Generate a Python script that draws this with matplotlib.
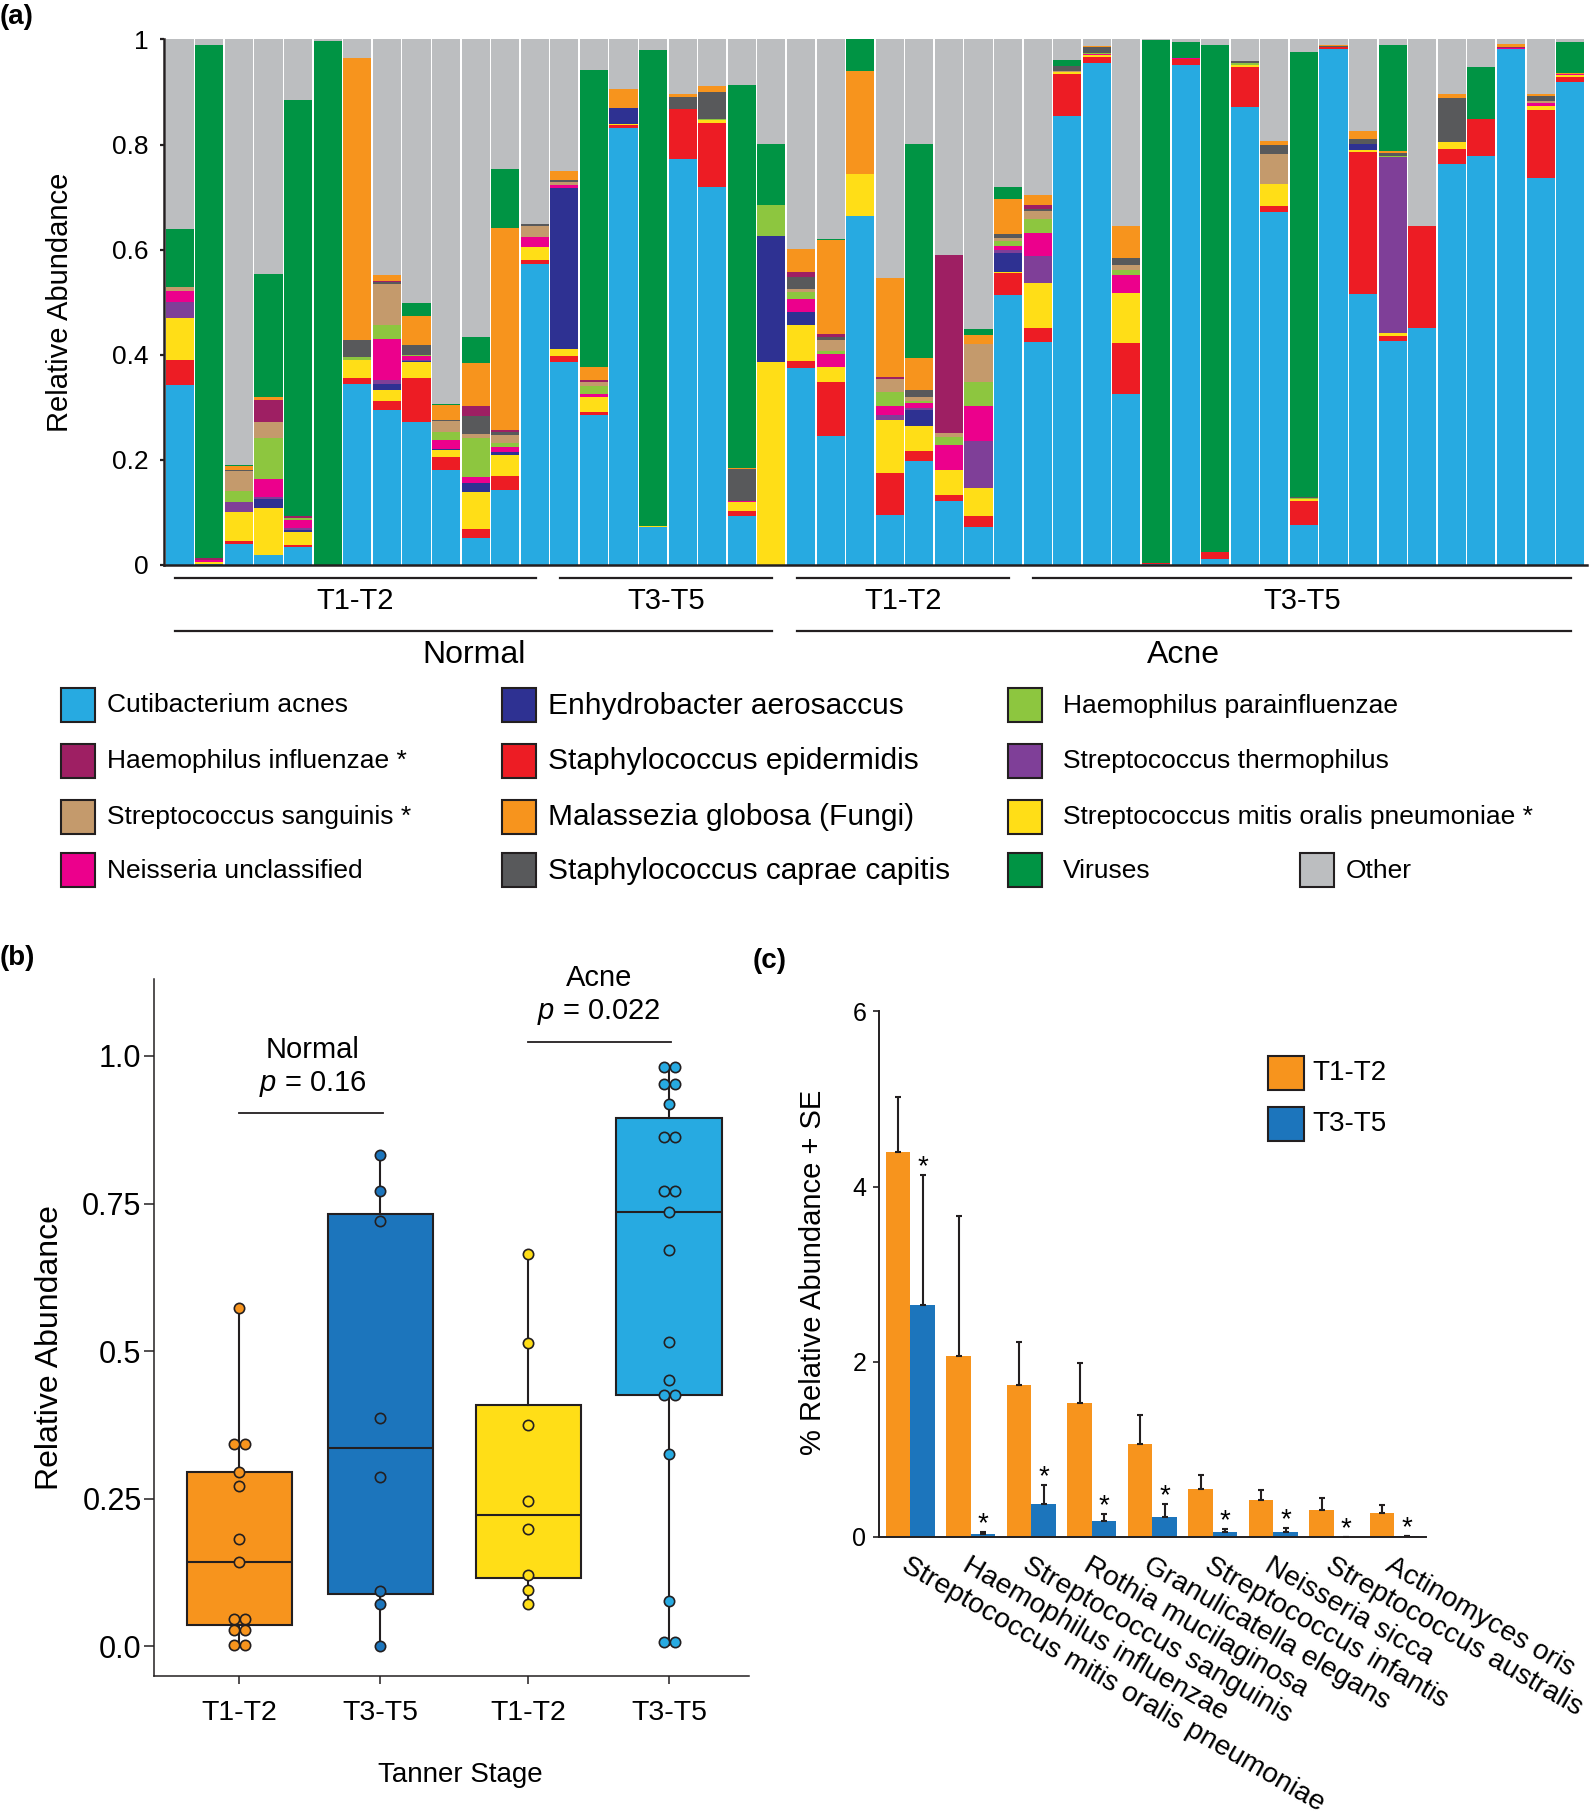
import numpy as np
import matplotlib
matplotlib.use("Agg")
import matplotlib.pyplot as plt
from matplotlib.patches import Rectangle

plt.rcParams['font.family'] = ['Liberation Sans', 'DejaVu Sans']
plt.rcParams['mathtext.fontset'] = 'custom'
plt.rcParams['mathtext.it'] = 'Liberation Sans:italic'
plt.rcParams['mathtext.rm'] = 'Liberation Sans'

W, H = 1593, 1819
DARK = '#231F20'

# ---------------- panel (a): relative abundance per sample (48 samples)
species = ["Cutibacterium acnes", "Staphylococcus epidermidis",
           "Streptococcus mitis oralis pneumoniae *", "Enhydrobacter aerosaccus",
           "Streptococcus thermophilus", "Neisseria unclassified",
           "Haemophilus parainfluenzae", "Streptococcus sanguinis *",
           "Staphylococcus caprae capitis", "Haemophilus influenzae *",
           "Malassezia globosa (Fungi)", "Viruses"]
colors = ['#27AAE1', '#ED1C24', '#FFDE17', '#2E3192', '#7F3F98', '#EC008C',
          '#8DC63F', '#C49A6C', '#58595B', '#9E1F63', '#F7941D', '#009444']
other_color = '#BCBEC0'

acnes = [.342, .002, .040, .019, .035, 0, .344, .295, .272, .181, .051, .142, .573,
         .386, .286, .832, .072, .772, .720, .093, 0,
         .374, .246, .664, .095, .198, .121, .072, .514,
         .425, .854, .955, .325, .002, .951, .012, .871, .672, .076, .982, .515, .426,
         .451, .763, .778, .982, .736, .919]
epidermidis = [.048, 0, .005, 0, .003, 0, .012, .017, .084, .025, .017, .027, .007,
               .012, .005, .005, 0, .096, .122, .010, 0,
               .014, .102, 0, .080, .019, .012, .021, .041,
               .026, .081, .012, .098, .001, .012, .013, .077, .011, .045, .003, .271, .010,
               .194, .029, .071, 0, .130, .009]
mitis = [.080, .004, .056, .089, .025, 0, .034, .021, .030, .013, .071, .040, .025,
         .013, .029, .003, .002, 0, .004, .016, .386,
         .069, .028, .080, .101, .047, .048, .053, .002,
         .086, .004, .004, .094, 0, 0, 0, .004, .042, .004, 0, .004, .006,
         0, .013, 0, 0, .007, .004]
enhydrobacter = [0, 0, 0, .018, .004, 0, 0, .012, .002, .001, .017, .006, 0,
                 .307, 0, .030, 0, 0, 0, 0, .240,
                 .024, 0, 0, 0, .031, 0, 0, .036,
                 0, 0, 0, 0, 0, 0, 0, 0, 0, 0, 0, .011, 0,
                 0, 0, 0, 0, 0, 0]
thermophilus = [.031, 0, .018, .004, .004, 0, 0, .007, .002, 0, 0, 0, 0,
                0, 0, 0, 0, 0, 0, 0, 0,
                0, 0, 0, .010, .003, 0, .090, .006,
                .051, 0, 0, 0, 0, 0, 0, 0, 0, 0, 0, 0, .334,
                0, 0, 0, 0, 0, 0]
neisseria = [.020, .003, 0, .034, .014, 0, 0, .078, .007, .018, .012, .009, .019,
             .005, .005, 0, 0, 0, 0, .002, 0,
             .025, .025, 0, .016, .010, .047, .066, .008,
             .044, 0, .002, .035, 0, .001, 0, 0, 0, 0, 0, 0, 0,
             0, 0, 0, .002, .006, .002]
parainfluenzae = [0, 0, .022, .078, .004, 0, .006, .027, .002, .016, .074, .009, 0,
                  0, .015, 0, 0, 0, .002, 0, .059,
                  .013, .006, 0, .028, .004, .016, .046, .009,
                  .026, 0, .002, .009, 0, 0, 0, .003, 0, .002, 0, 0, .002,
                  0, 0, 0, 0, 0, 0]
sanguinis = [.008, 0, .038, .030, 0, 0, 0, .078, 0, .020, .007, .014, .021,
             .005, .008, 0, 0, 0, 0, 0, 0,
             .006, .021, 0, .024, .008, .007, .073, .006,
             .016, .002, 0, .010, 0, 0, 0, 0, .057, 0, 0, 0, 0,
             0, 0, 0, 0, .004, 0]
caprae = [0, 0, .002, 0, 0, 0, .032, .004, .020, .002, .035, .007, .004,
          .004, 0, 0, 0, .023, .052, .061, 0,
          .023, .005, 0, 0, .013, 0, 0, .008,
          .003, .008, .011, .013, 0, 0, 0, .004, .017, .003, .003, .009, .006,
          0, .083, 0, 0, .010, 0]
influenzae = [0, .004, 0, .042, .004, 0, 0, .002, 0, 0, .018, .003, 0,
              0, .004, 0, 0, 0, 0, 0, 0,
              .009, .006, 0, .004, 0, .339, 0, 0,
              .008, 0, 0, 0, 0, 0, 0, 0, 0, 0, 0, 0, 0,
              0, 0, 0, .002, 0, 0]
malassezia = [0, 0, .007, .006, 0, 0, .537, .011, .055, .028, .083, .385, 0,
              .018, .025, .036, 0, .006, .011, .002, 0,
              .044, .179, .196, .188, .061, 0, .016, .066,
              .019, .001, .002, .061, 0, .001, 0, 0, .008, 0, .001, .016, .004,
              0, .008, 0, .006, .004, .003]
viruses = [.111, .976, .002, .233, .792, .998, 0, 0, .025, .002, .049, .112, 0,
           0, .565, 0, .906, 0, 0, .729, .116,
           0, .002, .060, 0, .407, 0, .012, .023,
           0, .011, 0, 0, .996, .030, .964, 0, 0, .846, 0, 0, .201,
           0, 0, .099, 0, 0, .058]
stack = [acnes, epidermidis, mitis, enhydrobacter, thermophilus, neisseria,
         parainfluenzae, sanguinis, caprae, influenzae, malassezia, viruses]

stage_names = ["T1-T2", "T3-T5", "T1-T2", "T3-T5"]
stage_sizes = [13, 8, 8, 19]
cohorts = ["Normal", "Acne"]

# ---------------- panel (c): mean % relative abundance + SE
c_taxa = ["Streptococcus mitis oralis pneumoniae", "Haemophilus influenzae",
          "Streptococcus sanguinis", "Rothia mucilaginosa", "Granulicatella elegans",
          "Streptococcus infantis", "Neisseria sicca", "Streptococcus australis",
          "Actinomyces oris"]
c_t12 = [4.39, 2.07, 1.74, 1.53, 1.06, 0.55, 0.42, 0.31, 0.27]
c_t12_se = [0.63, 1.59, 0.48, 0.46, 0.33, 0.16, 0.12, 0.14, 0.09]
c_t35 = [2.65, 0.03, 0.38, 0.18, 0.23, 0.06, 0.06, 0.0, 0.01]
c_t35_se = [1.48, 0.03, 0.21, 0.08, 0.15, 0.03, 0.04, 0.0, 0.0]
p_values = ["0.16", "0.022"]

fig = plt.figure(figsize=(W / 100, H / 100), dpi=100)


def fx(px):
    return px / W


def fy(py):
    return 1 - py / H


# ================= panel (a)
ax_a = fig.add_axes([fx(164), fy(565), 1422.7 / W, 525.5 / H])
x = np.arange(len(acnes))
bottom = np.zeros(len(acnes))
for vals, col in zip(stack, colors):
    ax_a.bar(x, vals, 0.95, bottom=bottom, color=col, linewidth=0)
    bottom += np.array(vals)
ax_a.bar(x, np.clip(1 - bottom, 0, None), 0.95, bottom=bottom, color=other_color, linewidth=0)

ax_a.set_xlim(-0.534, 47.56)
ax_a.set_ylim(0, 1)
for s in ['top', 'right']:
    ax_a.spines[s].set_visible(False)
for s in ['left', 'bottom']:
    ax_a.spines[s].set_linewidth(1.8)
    ax_a.spines[s].set_color(DARK)
ax_a.set_xticks([])
ax_a.set_yticks([0, 0.2, 0.4, 0.6, 0.8, 1.0])
ax_a.set_yticklabels(['0', '0.2', '0.4', '0.6', '0.8', '1'])
ax_a.tick_params(axis='y', length=3, width=1.6, color=DARK, labelsize=19, pad=8)
fig.text(fx(60), fy(302), "Relative Abundance", rotation=90, ha='center', va='center', fontsize=21)

trans = ax_a.get_xaxis_transform()
start = 0
for name, n in zip(stage_names, stage_sizes):
    x0, x1 = start - 0.15, start + n - 1 + 0.03
    ax_a.plot([x0, x1], [-0.024, -0.024], transform=trans, clip_on=False, color=DARK, lw=1.6)
    ax_a.text((x0 + x1) / 2, -0.068, name, transform=trans, ha='center', va='center', fontsize=21)
    start += n
bounds = [(0, stage_sizes[0] + stage_sizes[1] - 1),
          (stage_sizes[0] + stage_sizes[1], sum(stage_sizes) - 1)]
for name, (b0, b1) in zip(cohorts, bounds):
    x0, x1 = b0 - 0.15, b1 + 0.03
    ax_a.plot([x0, x1], [-0.125, -0.125], transform=trans, clip_on=False, color=DARK, lw=1.6)
    ax_a.text((x0 + x1) / 2, -0.171, name, transform=trans, ha='center', va='center', fontsize=23)

# legend of panel (a)
sq_x = [61, 501.5, 1008, 1300]
tx_x = [107, 548.5, 1063, 1346]
row_y = [705.5, 761, 817, 870.5]
col_size = [19, 21.5, 19, 19]
layout = [(0, 0, 0), (9, 0, 1), (7, 0, 2), (5, 0, 3),
          (3, 1, 0), (1, 1, 1), (10, 1, 2), (8, 1, 3),
          (6, 2, 0), (4, 2, 1), (2, 2, 2), (11, 2, 3)]
for idx, c, r in layout:
    fig.add_artist(Rectangle((fx(sq_x[c]), fy(row_y[r] + 17)), 34 / W, 34 / H,
                             transform=fig.transFigure, facecolor=colors[idx],
                             edgecolor=DARK, lw=1.5))
    fig.text(fx(tx_x[c]), fy(row_y[r]), species[idx], ha='left', va='center',
             fontsize=col_size[c])
fig.add_artist(Rectangle((fx(sq_x[3]), fy(row_y[3] + 17)), 34 / W, 34 / H,
                         transform=fig.transFigure, facecolor=other_color,
                         edgecolor=DARK, lw=1.5))
fig.text(fx(tx_x[3]), fy(row_y[3]), "Other", ha='left', va='center', fontsize=19)

# ================= panel (b)
ax_b = fig.add_axes([fx(154), fy(1676), 595 / W, 697 / H])
box_colors = ['#F7941D', '#1C75BC', '#FFDE17', '#27AAE1']
positions = [1, 2, 3.05, 4.05]
groups = []
start = 0
for n in stage_sizes:
    groups.append(acnes[start:start + n])
    start += n

bp = ax_b.boxplot(groups, positions=positions, widths=0.75, whis=(0, 100),
                  patch_artist=True, showcaps=False, showfliers=False,
                  medianprops=dict(color=DARK, lw=1.5),
                  whiskerprops=dict(color=DARK, lw=1.5),
                  boxprops=dict(edgecolor=DARK, lw=1.5))
for patch, col in zip(bp['boxes'], box_colors):
    patch.set_facecolor(col)


def dot_positions(vals, x0, bw=0.018, dx=0.076):
    v = np.sort(vals)
    xs, ys = [], []
    i = 0
    while i < len(v):
        j = i
        while j + 1 < len(v) and v[j + 1] < v[i] + bw:
            j += 1
        n = j - i + 1
        for k in range(n):
            xs.append(x0 + (k - (n - 1) / 2) * dx)
            ys.append((v[i] + v[j]) / 2)
        i = j + 1
    return xs, ys


for g, p, col in zip(groups, positions, box_colors):
    xs, ys = dot_positions(g, p)
    ax_b.scatter(xs, ys, s=55, color=col, edgecolor=DARK, linewidth=1.2, zorder=5)

ax_b.set_xlim(0.394, 4.615)
ax_b.set_ylim(-0.0508, 1.1305)
for s in ['top', 'right']:
    ax_b.spines[s].set_visible(False)
for s in ['left', 'bottom']:
    ax_b.spines[s].set_linewidth(1.1)
    ax_b.spines[s].set_color(DARK)
ax_b.set_yticks([0, 0.25, 0.5, 0.75, 1.0])
ax_b.set_yticklabels(['0.0', '0.25', '0.5', '0.75', '1.0'])
ax_b.set_xticks(positions)
ax_b.set_xticklabels(stage_names)
ax_b.tick_params(axis='y', length=7, width=1.1, color=DARK, labelsize=22, pad=2)
ax_b.tick_params(axis='x', length=6, width=1.1, color=DARK, labelsize=20.5, pad=11)
fig.text(fx(50), fy(1348), "Relative Abundance", rotation=90, ha='center', va='center', fontsize=23)
fig.text(fx(460.5), fy(1775), "Tanner Stage", ha='center', va='center', fontsize=20)

ax_b.plot([positions[0], positions[1] + 0.02], [0.904, 0.904], color=DARK, lw=1.3)
ax_b.text(1.52, 1.011, cohorts[0], ha='center', va='center', fontsize=21)
ax_b.text(1.52, 0.952, "$p$ = " + p_values[0], ha='center', va='center', fontsize=21)
ax_b.plot([positions[2], positions[3] + 0.01], [1.023, 1.023], color=DARK, lw=1.3, clip_on=False)
ax_b.text(3.55, 1.133, cohorts[1], ha='center', va='center', fontsize=21)
ax_b.text(3.55, 1.075, "$p$ = " + p_values[1], ha='center', va='center', fontsize=21)

# ================= panel (c)
ax_c = fig.add_axes([fx(878.7), fy(1537), 546.8 / W, 525.7 / H])
xc = np.arange(len(c_taxa))
bw = 0.405
err_kw = dict(ecolor=DARK, elinewidth=1.5, capsize=2.5, capthick=1.5)
ax_c.bar(xc - bw / 2, c_t12, bw, color='#F7941D',
         yerr=[np.zeros(len(xc)), c_t12_se], error_kw=err_kw)
ax_c.bar(xc + bw / 2, c_t35, bw, color='#1C75BC',
         yerr=[np.zeros(len(xc)), c_t35_se], error_kw=err_kw)
for i in range(len(xc)):
    ax_c.text(xc[i] + bw / 2, c_t35[i] + c_t35_se[i] + 0.01, '*', ha='center',
              va='baseline', fontsize=20)

ax_c.set_xlim(-0.522, 8.516)
ax_c.set_ylim(0, 6)
for s in ['top', 'right']:
    ax_c.spines[s].set_visible(False)
for s in ['left', 'bottom']:
    ax_c.spines[s].set_linewidth(1.4)
    ax_c.spines[s].set_color(DARK)
ax_c.set_yticks([0, 2, 4, 6])
ax_c.tick_params(axis='y', length=4, width=1.2, color=DARK, labelsize=18, pad=5)
ax_c.set_xticks(xc)
ax_c.set_xticklabels(c_taxa, rotation=-30, ha='left', va='top', rotation_mode='anchor', fontsize=20.3)
ax_c.tick_params(axis='x', length=0, pad=11)
fig.text(fx(813.4), fy(1272), "% Relative Abundance + SE", rotation=90, ha='center', va='center', fontsize=21)

for name, col, yy in [("T1-T2", '#F7941D', 1072.5), ("T3-T5", '#1C75BC', 1124)]:
    fig.add_artist(Rectangle((fx(1268), fy(yy + 17)), 36 / W, 34 / H,
                             transform=fig.transFigure, facecolor=col,
                             edgecolor=DARK, lw=1.5))
    fig.text(fx(1312), fy(yy), name, ha='left', va='center', fontsize=20)

# panel letters
fig.text(fx(0), fy(4), "(a)", ha='left', va='top', fontsize=20, fontweight='bold')
fig.text(fx(0), fy(945), "(b)", ha='left', va='top', fontsize=20, fontweight='bold')
fig.text(fx(753), fy(948), "(c)", ha='left', va='top', fontsize=20, fontweight='bold')

fig.savefig("out.png", dpi=100)
